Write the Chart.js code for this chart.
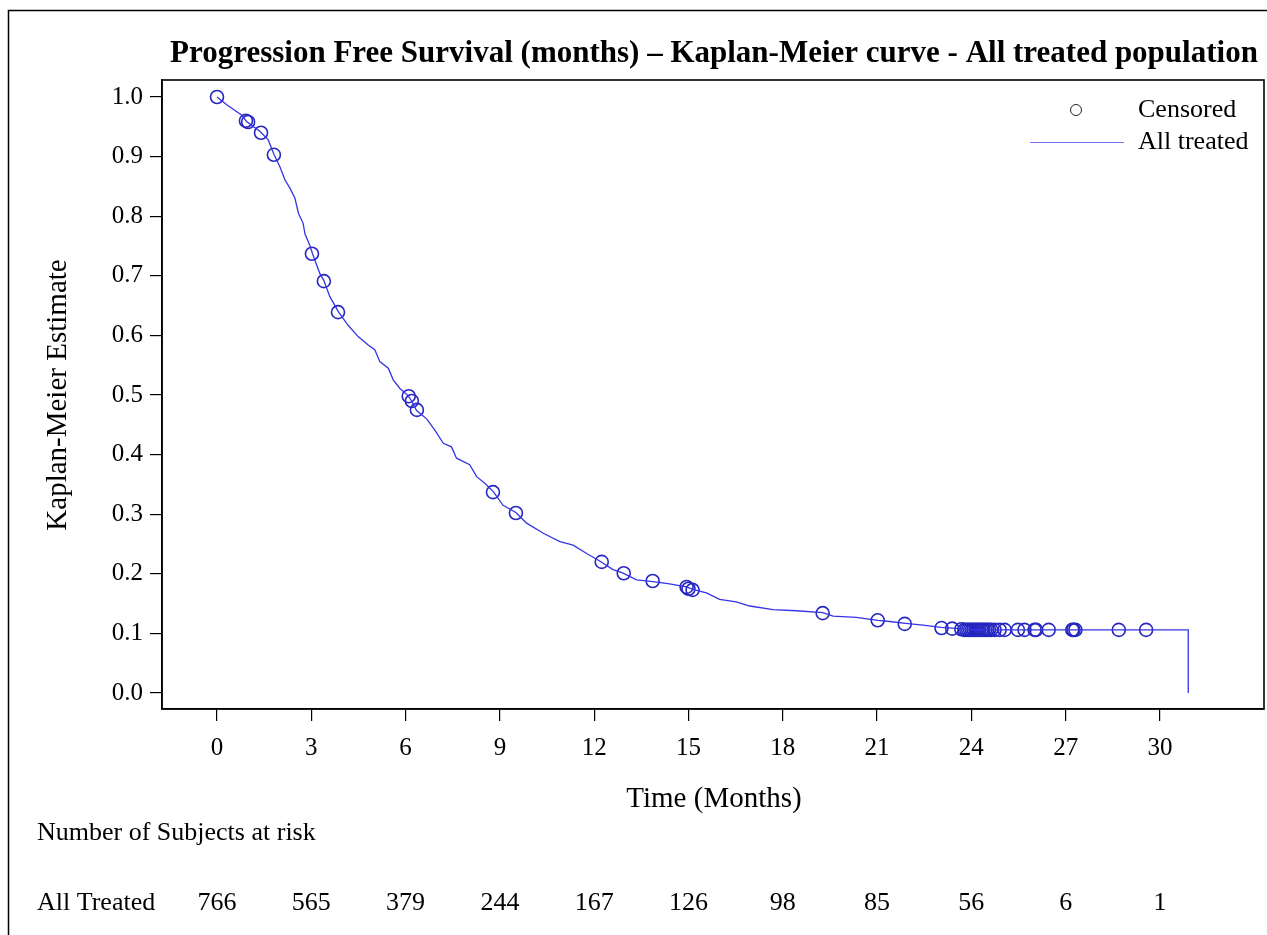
<!DOCTYPE html>
<html>
<head>
<meta charset="utf-8">
<script src="https://cdn.jsdelivr.net/npm/chart.js@4.4.1/dist/chart.umd.min.js"></script>
<style>
  html, body { margin: 0; padding: 0; background: #fff; overflow: hidden; }
  canvas { display: block; }
</style>
</head>
<body>
<canvas id="kmChart" width="1267" height="935"></canvas>
<script>
// Kaplan-Meier curve: [months, survival estimate]
const kmSteps = [
  [0, 1.0], [0.31, 0.987], [0.78, 0.970], [0.94, 0.959], [1.37, 0.942], [1.63, 0.928],
  [1.81, 0.904], [2.0, 0.883], [2.16, 0.861], [2.32, 0.847], [2.48, 0.830], [2.59, 0.805],
  [2.74, 0.788], [2.80, 0.770], [2.96, 0.750], [3.04, 0.737], [3.17, 0.718], [3.27, 0.704],
  [3.40, 0.692], [3.59, 0.665], [3.86, 0.640], [4.17, 0.617], [4.49, 0.598], [4.81, 0.584],
  [5.02, 0.576], [5.18, 0.556], [5.45, 0.545], [5.61, 0.525], [5.82, 0.511], [6.08, 0.499],
  [6.19, 0.490], [6.35, 0.474], [6.67, 0.460], [6.93, 0.441], [7.20, 0.419], [7.46, 0.413],
  [7.62, 0.394], [8.04, 0.383], [8.26, 0.363], [8.52, 0.352], [8.79, 0.338], [9.10, 0.315],
  [9.51, 0.303], [9.85, 0.285], [10.38, 0.268], [10.91, 0.254], [11.33, 0.248], [11.76, 0.234],
  [12.16, 0.222], [12.6, 0.207], [12.92, 0.201], [13.35, 0.190], [13.87, 0.187], [14.40, 0.183],
  [14.93, 0.178], [15.2, 0.173], [15.57, 0.168], [15.99, 0.157], [16.52, 0.153], [16.95, 0.146],
  [17.69, 0.140], [18.43, 0.138], [19.28, 0.135], [19.6, 0.129], [20.34, 0.127], [21.03, 0.122],
  [21.4, 0.120], [21.91, 0.117], [22.46, 0.114], [23.04, 0.110], [23.62, 0.108], [24.0, 0.106],
  [30.9, 0.106], [30.9, 0.0]
];

// censored subjects (circles)
const censored = [
  [0, 1.0], [0.92, 0.960], [0.99, 0.958], [1.40, 0.940], [1.81, 0.903], [3.02, 0.737],
  [3.40, 0.691], [3.85, 0.639], [6.10, 0.498], [6.20, 0.490], [6.36, 0.475], [8.78, 0.337],
  [9.51, 0.302], [12.24, 0.220], [12.94, 0.201], [13.86, 0.188], [14.94, 0.178], [15.0, 0.175],
  [15.13, 0.173], [19.27, 0.134], [21.02, 0.122], [21.88, 0.116], [23.05, 0.109], [23.39, 0.108],
  [23.68, 0.107], [23.78, 0.106], [23.84, 0.106], [23.90, 0.106], [23.96, 0.106], [24.02, 0.106],
  [24.08, 0.106], [24.14, 0.106], [24.20, 0.106], [24.26, 0.106], [24.32, 0.106], [24.38, 0.106],
  [24.44, 0.106], [24.50, 0.106], [24.56, 0.106], [24.63, 0.106], [24.74, 0.106], [24.90, 0.106],
  [25.06, 0.106], [25.48, 0.106], [25.69, 0.106], [26.01, 0.106], [26.06, 0.106], [26.46, 0.106],
  [27.21, 0.106], [27.25, 0.106], [27.31, 0.106], [28.69, 0.106], [29.56, 0.106]
];

const xTicks = [0, 3, 6, 9, 12, 15, 18, 21, 24, 27, 30];
const yTicks = [0, 0.1, 0.2, 0.3, 0.4, 0.5, 0.6, 0.7, 0.8, 0.9, 1.0];
const atRisk = [766, 565, 379, 244, 167, 126, 98, 85, 56, 6, 1];

const chartTitle = 'Progression Free Survival (months) \u2013 Kaplan-Meier curve - All treated population';
const serif = "'Liberation Serif', 'Times New Roman', serif";
const lineBlue = '#3434e6';
const circleBlue = '#2626c0';

const decorations = {
  id: 'decorations',
  afterDraw(chart) {
    const ctx = chart.ctx;
    const area = chart.chartArea;
    const xs = chart.scales.x;
    ctx.save();

    // outer page frame
    ctx.strokeStyle = '#000';
    ctx.lineWidth = 1.5;
    ctx.beginPath();
    ctx.moveTo(8.5, 935);
    ctx.lineTo(8.5, 10.5);
    ctx.lineTo(1267, 10.5);
    ctx.stroke();

    // plot frame
    ctx.lineWidth = 1.6;
    ctx.strokeRect(area.left, area.top, area.right - area.left, area.bottom - area.top);

    ctx.fillStyle = '#000';

    // title, fitted to the width seen in the picture
    ctx.font = 'bold 30px ' + serif;
    const tw = ctx.measureText(chartTitle).width;
    const ts = 30 * 1088 / tw;
    ctx.font = 'bold ' + ts.toFixed(1) + 'px ' + serif;
    ctx.textAlign = 'center';
    ctx.textBaseline = 'alphabetic';
    ctx.fillText(chartTitle, 714, 62);

    // axis titles
    ctx.font = '29px ' + serif;
    ctx.fillText('Time (Months)', 714, 807);
    ctx.save();
    ctx.translate(66, 395);
    ctx.rotate(-Math.PI / 2);
    ctx.fillText('Kaplan-Meier Estimate', 0, 0);
    ctx.restore();

    // legend
    ctx.font = '26px ' + serif;
    ctx.textAlign = 'left';
    ctx.fillText('Censored', 1138, 117);
    ctx.fillText('All treated', 1138, 149);
    ctx.strokeStyle = '#222';
    ctx.lineWidth = 1;
    ctx.beginPath();
    ctx.arc(1076, 110, 5.5, 0, Math.PI * 2);
    ctx.stroke();
    ctx.strokeStyle = '#7474f0';
    ctx.lineWidth = 1.2;
    ctx.beginPath();
    ctx.moveTo(1030, 142.5);
    ctx.lineTo(1124, 142.5);
    ctx.stroke();

    // number at risk table
    ctx.fillStyle = '#000';
    ctx.font = '26px ' + serif;
    ctx.fillText('Number of Subjects at risk', 37, 840);
    ctx.fillText('All Treated', 37, 910);
    ctx.textAlign = 'center';
    atRisk.forEach((n, i) => {
      ctx.fillText(String(n), xs.getPixelForValue(xTicks[i]), 910);
    });

    ctx.restore();
  }
};

new Chart(document.getElementById('kmChart'), {
  type: 'scatter',
  data: {
    datasets: [
      {
        label: 'All treated',
        data: kmSteps.map(p => ({ x: p[0], y: p[1] })),
        showLine: true,
        borderColor: lineBlue,
        borderWidth: 1.3,
        tension: 0,
        pointRadius: 0,
        fill: false
      },
      {
        label: 'Censored',
        data: censored.map(p => ({ x: p[0], y: p[1] })),
        showLine: false,
        pointStyle: 'circle',
        pointRadius: 6.5,
        pointBorderWidth: 1.6,
        pointBorderColor: circleBlue,
        pointBackgroundColor: 'rgba(0,0,0,0)'
      }
    ]
  },
  options: {
    responsive: false,
    animation: false,
    layout: {
      autoPadding: false,
      padding: { left: 0, top: 80, right: 3, bottom: 0 }
    },
    plugins: {
      legend: { display: false },
      title: { display: false },
      tooltip: { enabled: false }
    },
    scales: {
      x: {
        type: 'linear',
        min: -1.75,
        max: 33.31,
        afterBuildTicks: s => { s.ticks = xTicks.map(v => ({ value: v })); },
        afterFit: s => { s.height = 226; },
        ticks: {
          color: '#000',
          padding: 12,
          font: { family: serif, size: 25 }
        },
        grid: {
          drawOnChartArea: false,
          drawTicks: true,
          tickLength: 12,
          color: '#000',
          lineWidth: 1.2
        },
        border: { display: true, color: '#000', width: 1.6 }
      },
      y: {
        type: 'linear',
        min: -0.0268,
        max: 1.0285,
        afterBuildTicks: s => { s.ticks = yTicks.map(v => ({ value: v })); },
        afterFit: s => { s.width = 162; },
        ticks: {
          color: '#000',
          padding: 7,
          font: { family: serif, size: 25 },
          callback: v => v.toFixed(1)
        },
        grid: {
          drawOnChartArea: false,
          drawTicks: true,
          tickLength: 12,
          color: '#000',
          lineWidth: 1.2
        },
        border: { display: true, color: '#000', width: 1.6 }
      }
    }
  },
  plugins: [decorations]
});
</script>
</body>
</html>
